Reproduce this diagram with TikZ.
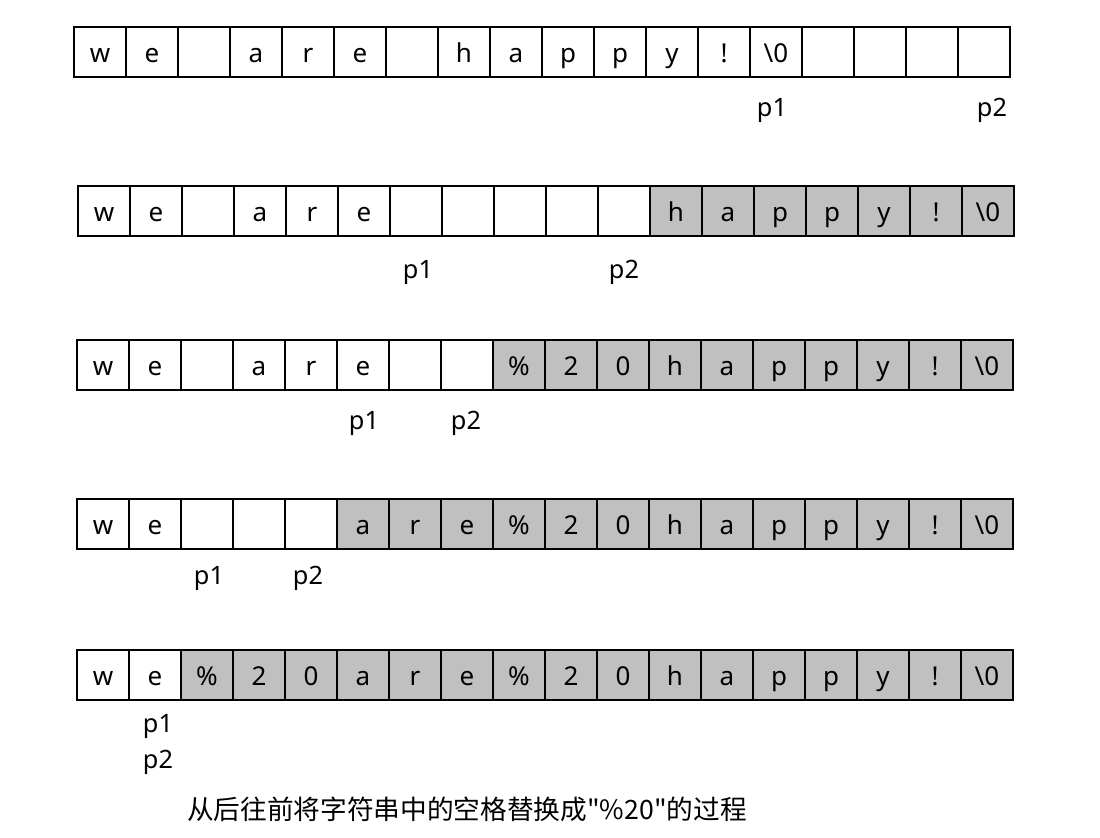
\documentclass[tikz,border=0pt]{standalone}
\usepackage{fontspec}
\setmainfont{Noto Sans}
\newfontfamily\cjk{Noto Sans CJK SC}
\usetikzlibrary{positioning}
\definecolor{cellgray}{RGB}{192,192,192}

% one row of the string: name, left edge, centre y, first grey cell, contents
\newcommand{\strrow}[5]{%
  \foreach \t [count=\i] in {#5} {%
    \ifnum\i<#4 \def\fc{white}\else\def\fc{cellgray}\fi
    \node[cell, fill=\fc] (#1c\i) at (#2+26+52*\i-52, #3) {\t};
  }%
}

\begin{document}
\begin{tikzpicture}[x=0.75pt, y=-0.75pt,
  cell/.style={draw, line width=1.3pt, minimum width=39pt, minimum height=37.5pt,
    inner sep=0pt, outer sep=0pt, text height=16pt, text depth=0pt,
    font=\fontsize{19.5}{22}\selectfont},
  ptr/.style={inner sep=0pt, font=\fontsize{19}{22}\selectfont}]
\useasboundingbox (0,0) rectangle (1100,838);
\strrow{r1}{74}{52}{99}{w,e,,a,r,e,,h,a,p,p,y,!,\textbackslash0,,,,}
\node[ptr] (r1p1) at (772,110) {p1};
\node[ptr] (r1p2) at (992,110) {p2};
\strrow{r2}{78}{211}{12}{w,e,,a,r,e,,,,,,h,a,p,p,y,!,\textbackslash0}
\node[ptr] (r2p1) at (418,272) {p1};
\node[ptr] (r2p2) at (624,272) {p2};
\strrow{r3}{77}{365}{9}{w,e,,a,r,e,,,\%,2,0,h,a,p,p,y,!,\textbackslash0}
\node[ptr] (r3p1) at (364,423) {p1};
\node[ptr] (r3p2) at (466,423) {p2};
\strrow{r4}{77}{524}{6}{w,e,,,,a,r,e,\%,2,0,h,a,p,p,y,!,\textbackslash0}
\node[ptr] (r4p1) at (209,578) {p1};
\node[ptr] (r4p2) at (308,578) {p2};
\strrow{r5}{77}{675}{3}{w,e,\%,2,0,a,r,e,\%,2,0,h,a,p,p,y,!,\textbackslash0}
\node[ptr] (r5p1) at (158,726) {p1};
\node[ptr] (r5p2) at (158,762) {p2};
% caption
\node[inner sep=0pt, font=\cjk\fontsize{20}{23}\selectfont] (cap) at (467,809)
  {从后往前将字符串中的空格替换成"\%20"的过程};
\end{tikzpicture}
\end{document}
